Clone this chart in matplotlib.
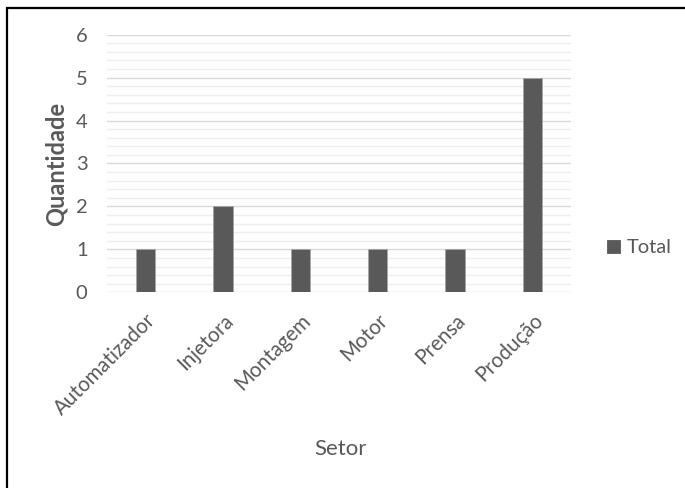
import numpy as np
import matplotlib.pyplot as plt
from matplotlib.patches import Rectangle
from matplotlib.ticker import MultipleLocator

setores = ['Automatizador', 'Injetora', 'Montagem', 'Motor', 'Prensa', 'Produção']
total = [1, 2, 1, 1, 1, 5]

plt.rcParams['font.family'] = ['Lato', 'DejaVu Sans']
cinza = '#595959'

fig = plt.figure(figsize=(6.85, 4.88), dpi=100)
ax = fig.add_axes([107 / 685, 1 - 292.3 / 488, 464 / 685, 257.6 / 488])

x = np.arange(len(setores))
ax.bar(x, total, width=0.25, color=cinza, edgecolor='#a6a6a6', linewidth=0.6,
       label='Total', zorder=3)

ax.set_xlim(-0.5, len(setores) - 0.5)
ax.set_ylim(0, 6)
ax.yaxis.set_major_locator(MultipleLocator(1))
ax.yaxis.set_minor_locator(MultipleLocator(0.2))
ax.grid(axis='y', which='major', color='#d9d9d9', linewidth=1.0, zorder=0)
ax.grid(axis='y', which='minor', color='#eeeeee', linewidth=1.0, zorder=0)
for s in ax.spines.values():
    s.set_visible(False)
ax.tick_params(axis='both', which='both', length=0)
ax.tick_params(axis='y', pad=14, labelsize=14.5, labelcolor=cinza)
ax.tick_params(axis='x', pad=13, labelsize=14.8, labelcolor=cinza)

ax.set_xticks(x)
ax.set_xticklabels(setores, rotation=45, ha='right', rotation_mode='anchor')

ax.set_ylabel('Quantidade', fontsize=17, fontweight='bold', color=cinza, labelpad=6)
fig.text(341 / 685, 1 - 449 / 488, 'Setor', fontsize=16, color=cinza,
         ha='center', va='center')

leg = ax.legend(loc='center left', bbox_to_anchor=(1.038, 0.172), frameon=False,
                fontsize=14.5, handlelength=0.65, handleheight=0.65,
                handletextpad=0.35, labelcolor=cinza)
for h in leg.legend_handles:
    h.set_edgecolor(cinza)

# moldura da figura
fig.patches.append(Rectangle((7 / 685, -0.01), 1.0, 1 - 7.5 / 488 + 0.01,
                             transform=fig.transFigure, fill=False,
                             edgecolor='black', linewidth=1.6))

fig.savefig('out.png', dpi=100)
